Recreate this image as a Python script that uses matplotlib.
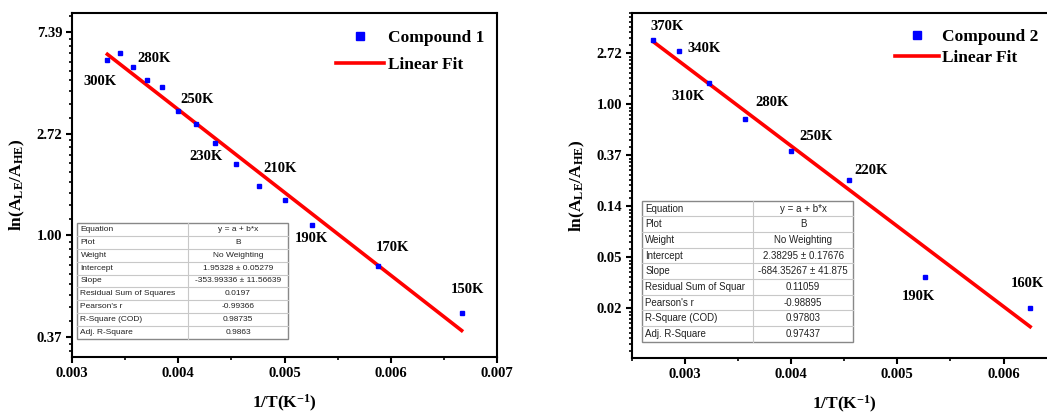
import numpy as np
import matplotlib
matplotlib.use("Agg")
import matplotlib.pyplot as plt
from matplotlib.ticker import FixedLocator, NullFormatter
from matplotlib.patches import Rectangle
from matplotlib.lines import Line2D

# ---------------- data ----------------
# Compound 1
x1 = [0.003333, 0.003448, 0.003571, 0.003704, 0.003846, 0.004000, 0.004167,
      0.004348, 0.004545, 0.004762, 0.005000, 0.005263, 0.005882, 0.006667]
y1 = [5.60, 5.99, 5.25, 4.61, 4.30, 3.40, 2.98, 2.49, 2.02, 1.62, 1.42, 1.11, 0.742, 0.466]
labels1 = ["300K", "280K", "", "", "", "250K", "", "230K", "", "210K", "", "190K", "170K", "150K"]
label_idx1 = [0, 1, 5, 7, 9, 11, 12, 13]
fit1_a, fit1_b = 1.95328, -353.99336
table1_keys = ["Equation", "Plot", "Weight", "Intercept", "Slope",
               "Residual Sum of Squares", "Pearson's r", "R-Square (COD)", "Adj. R-Square"]
table1_vals = ["y = a + b*x", "B", "No Weighting", "1.95328 \u00b1 0.05279",
               "-353.99336 \u00b1 11.56639", "0.0197", "-0.99366", "0.98735", "0.9863"]

# Compound 2
x2 = [0.002703, 0.002941, 0.003226, 0.003571, 0.004000, 0.004545, 0.005263, 0.006250]
y2 = [3.55, 2.86, 1.51, 0.750, 0.400, 0.225, 0.0336, 0.0184]
labels2 = ["370K", "340K", "310K", "280K", "250K", "220K", "190K", "160K"]
fit2_a, fit2_b = 2.38295, -684.35267
table2_keys = ["Equation", "Plot", "Weight", "Intercept", "Slope",
               "Residual Sum of Squar", "Pearson's r", "R-Square (COD)", "Adj. R-Square"]
table2_vals = ["y = a + b*x", "B", "No Weighting", "2.38295 \u00b1 0.17676",
               "-684.35267 \u00b1 41.875", "0.11059", "-0.98895", "0.97803", "0.97437"]

# ---------------- layout / style ----------------
# label offsets in pixels (dx right, dy up)
off1 = [(-7, -21), (34, -5), (19, 11), (-9, -14), (21, 18), (-1, -14), (14, 18), (6, 23)]
off2 = [(14, 13), (26, 2), (-21, -13), (27, 16), (25, 14), (22, 10), (-7, -19), (-3, 24)]

SERIF = "Liberation Serif"
SANS = "Liberation Sans"
plt.rcParams["font.family"] = SERIF
plt.rcParams["mathtext.fontset"] = "custom"
plt.rcParams["mathtext.rm"] = "Liberation Serif:bold"
plt.rcParams["mathtext.it"] = "Liberation Serif:bold"
plt.rcParams["mathtext.bf"] = "Liberation Serif:bold"

fig = plt.figure(figsize=(10.47, 4.16), dpi=100)
W, H = 1047, 416


def make_axes(px_left, px_top, px_w, px_h):
    return fig.add_axes([px_left / W, (H - px_top - px_h) / H, px_w / W, px_h / H])


def draw_table(ax, keys, vals, bbox, fs, col_frac):
    x0, y0, w, h = bbox
    n = len(keys)
    rh = h / n
    ax.add_patch(Rectangle((x0, y0), w, h, transform=ax.transAxes, facecolor="white",
                           edgecolor="#888888", lw=1.0, zorder=5, clip_on=False))
    for i in range(1, n):
        ax.add_line(Line2D([x0, x0 + w], [y0 + i * rh] * 2, transform=ax.transAxes,
                           color="#c8c8c8", lw=0.8, zorder=6))
    ax.add_line(Line2D([x0 + w * col_frac] * 2, [y0, y0 + h], transform=ax.transAxes,
                       color="#c8c8c8", lw=0.8, zorder=6))
    for i, (k, v) in enumerate(zip(keys, vals)):
        yc = y0 + h - (i + 0.5) * rh
        ax.text(x0 + 0.008, yc, k, transform=ax.transAxes, ha="left", va="center",
                fontsize=fs, family=SANS, color="#222222", zorder=7)
        ax.text(x0 + w * col_frac + w * (1 - col_frac) / 2, yc, v, transform=ax.transAxes,
                ha="center", va="center", fontsize=fs, family=SANS, color="#222222", zorder=7)


def style_axes(ax, xlim, ylim, kmin, kmax, xmajor):
    ax.set_yscale("log", base=np.e)
    ax.set_xlim(*xlim)
    ax.set_ylim(*ylim)
    majors = [np.e ** k for k in range(kmin, kmax + 1)]
    ax.yaxis.set_major_locator(FixedLocator(majors))
    ax.set_yticklabels(["%.2f" % m for m in majors])
    minors = []
    for k in range(kmin - 1, kmax + 1):
        lo, hi = np.e ** k, np.e ** (k + 1)
        for j in range(1, 10):
            minors.append(lo + j * (hi - lo) / 10)
    ax.yaxis.set_minor_locator(FixedLocator(minors))
    ax.yaxis.set_minor_formatter(NullFormatter())
    ax.set_xticks(xmajor)
    ax.set_xticklabels(["%.3f" % v for v in xmajor])
    ax.xaxis.set_minor_locator(FixedLocator([v + 0.0005 for v in xmajor]))
    for s in ax.spines.values():
        s.set_linewidth(1.5)
    ax.tick_params(axis="both", which="major", direction="out", length=4, width=1.5,
                   labelsize=10.5, pad=3)
    ax.tick_params(axis="both", which="minor", direction="out", length=2.5, width=1.2)
    for lab in ax.get_xticklabels() + ax.get_yticklabels():
        lab.set_fontweight("bold")
    ax.set_xlabel(r"1/T(K$^{-1}$)", fontsize=12.5, fontweight="bold")
    ax.set_ylabel(r"ln(A$_{\mathregular{LE}}$/A$_{\mathregular{HE}}$)", fontsize=12.5,
                  fontweight="bold")


# ---------- left panel ----------
ax1 = make_axes(72, 13, 425, 344)
style_axes(ax1, (0.003, 0.007), (0.302, 8.91), -1, 2, [0.003, 0.004, 0.005, 0.006, 0.007])
ax1.plot(x1, y1, "s", color="#0000ff", ms=3.5, mec="#0000ff", label="Compound 1", zorder=4)
xf1 = np.array([x1[0], x1[-1]])
ax1.plot(xf1, 10 ** (fit1_a + fit1_b * xf1), color="#ff0000", lw=2.6, label="Linear Fit", zorder=3)
for idx, (dx, dy) in zip(label_idx1, off1):
    ax1.annotate(labels1[idx], (x1[idx], y1[idx]), xytext=(dx, dy), textcoords="offset pixels",
                 ha="center", va="center", fontsize=10.5, fontweight="bold")
draw_table(ax1, table1_keys, table1_vals, (0.012, 0.052, 0.496, 0.338), 6.0, 0.526)
leg1 = ax1.legend(loc="upper left", bbox_to_anchor=(0.62, 0.95), frameon=False,
                  handlelength=2.8, handletextpad=0.25, labelspacing=0.6, borderpad=0,
                  borderaxespad=0, markerscale=1.7, prop={"family": SERIF, "weight": "bold",
                                                          "size": 12.5})
ax1.yaxis.set_label_coords(-0.106, 0.5)
ax1.xaxis.set_label_coords(0.5, -0.105)

# ---------- right panel ----------
ax2 = make_axes(631.7, 13, 425, 345)
style_axes(ax2, (0.0025, 0.0065), (0.0069, 5.99), -4, 1, [0.003, 0.004, 0.005, 0.006])
ax2.xaxis.set_minor_locator(FixedLocator([0.0025, 0.0035, 0.0045, 0.0055, 0.0065]))
ax2.plot(x2, y2, "s", color="#0000ff", ms=3.5, mec="#0000ff", label="Compound 2", zorder=4)
xf2 = np.array([x2[0], x2[-1]])
ax2.plot(xf2, 10 ** (fit2_a + fit2_b * xf2), color="#ff0000", lw=2.6, label="Linear Fit", zorder=3)
for idx, (dx, dy) in enumerate(off2):
    ax2.annotate(labels2[idx], (x2[idx], y2[idx]), xytext=(dx, dy), textcoords="offset pixels",
                 ha="center", va="center", fontsize=10.5, fontweight="bold")
draw_table(ax2, table2_keys, table2_vals, (0.024, 0.047, 0.497, 0.409), 7.0, 0.526)
leg2 = ax2.legend(loc="upper left", bbox_to_anchor=(0.62, 0.955), frameon=False,
                  handlelength=2.5, handletextpad=0.2, labelspacing=0.3, borderpad=0,
                  borderaxespad=0, markerscale=1.7, prop={"family": SERIF, "weight": "bold",
                                                          "size": 12.5})
ax2.yaxis.set_label_coords(-0.105, 0.5)
ax2.xaxis.set_label_coords(0.5, -0.105)

fig.savefig("out.png", dpi=100)
